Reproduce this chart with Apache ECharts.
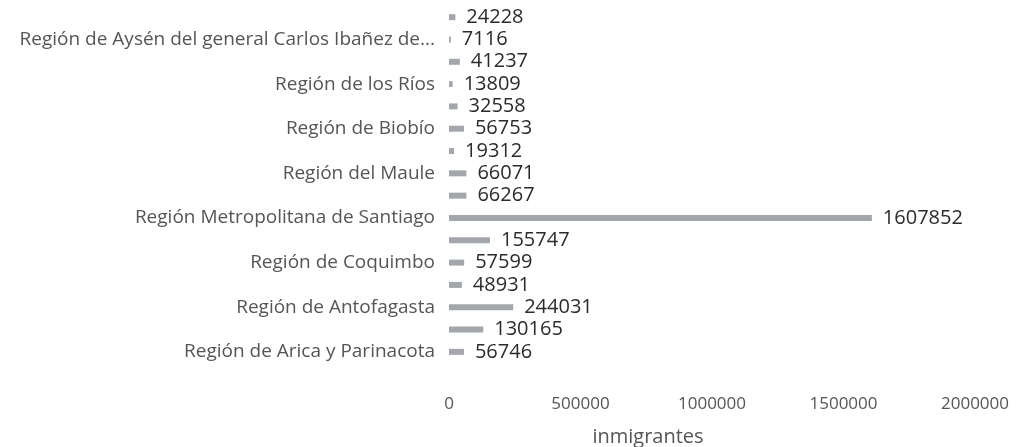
<!DOCTYPE html>
<html>
<head>
<meta charset="utf-8">
<script src="https://cdn.jsdelivr.net/npm/echarts@6/dist/echarts.min.js"></script>
<style>
html, body { margin: 0; padding: 0; background: #fff; }
#chart { width: 1036px; height: 447px; }
</style>
</head>
<body>
<div id="chart"></div>
<script>
// regiones de norte a sur (abajo hacia arriba)
var regiones = [
	'Región de Arica y Parinacota',
	'Región de Tarapacá',
	'Región de Antofagasta',
	'Región de Atacama',
	'Región de Coquimbo',
	'Región de Valparaíso',
	'Región Metropolitana de Santiago',
	'Región del Libertador General Bernardo O\'Higgins',
	'Región del Maule',
	'Región de Ñuble',
	'Región de Biobío',
	'Región de La Araucanía',
	'Región de los Ríos',
	'Región de los Lagos',
	'Región de Aysén del general Carlos Ibañez del Campo',
	'Región de Magallanes y de la Antártica Chilena'
];
var inmigrantes = [56746, 130165, 244031, 48931, 57599, 155747, 1607852, 66267,
	66071, 19312, 56753, 32558, 13809, 41237, 7116, 24228];
var xTicks = [0, 500000, 1000000, 1500000, 2000000];

var chart = echarts.init(document.getElementById('chart'));
chart.setOption({
	animation: false,
	textStyle: { fontFamily: 'Open Sans' },
	grid: { left: 449, right: 61, top: 6, bottom: 84, containLabel: false, outerBoundsMode: 'none' },
	xAxis: {
		type: 'value',
		min: xTicks[0],
		max: xTicks[xTicks.length - 1],
		interval: 500000,
		axisLine: { show: false },
		axisTick: { show: false },
		splitLine: { show: false },
		axisLabel: {
			color: '#555',
			fontSize: 17,
			margin: 33,
			formatter: function(v) { return String(v); }
		},
		name: 'inmigrantes',
		nameLocation: 'middle',
		nameGap: 64,
		nameTextStyle: { color: '#555', fontSize: 20, padding: [0, 128, 0, 0] }
	},
	yAxis: {
		type: 'category',
		data: regiones,
		axisLine: { show: false },
		axisTick: { show: false },
		axisLabel: {
			interval: 1,
			color: '#555',
			fontSize: 19,
			margin: 14,
			width: 432,
			overflow: 'truncate',
			ellipsis: '...'
		}
	},
	series: [{
		type: 'bar',
		data: inmigrantes,
		barWidth: 6,
		itemStyle: { color: '#a3a6ab' },
		label: {
			show: true,
			position: 'right',
			distance: 11,
			color: '#2b2b2b',
			fontSize: 20
		}
	}]
});
</script>
</body>
</html>
